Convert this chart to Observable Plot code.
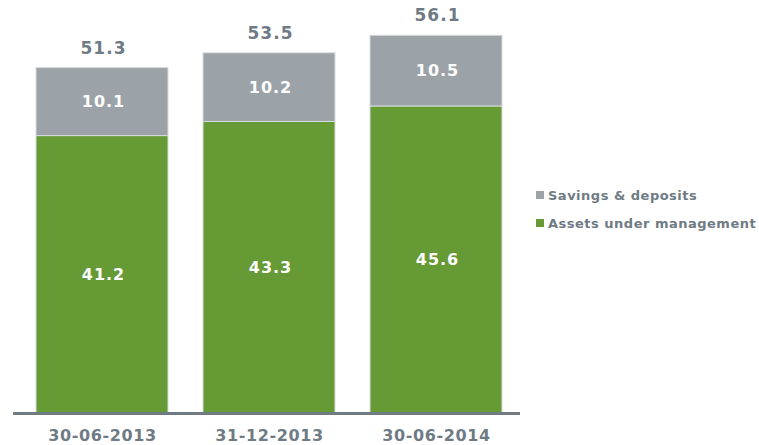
<!DOCTYPE html>
<html>
<head>
<meta charset="utf-8">
<script src="https://cdn.jsdelivr.net/npm/d3@7"></script>
<script src="https://cdn.jsdelivr.net/npm/@observablehq/plot@0.6"></script>
<style>
  html, body { margin: 0; padding: 0; background: #fff; }
  #wrap { position: relative; width: 759px; height: 445px; font-family: "DejaVu Sans", Verdana, sans-serif; }
  #wrap svg text { letter-spacing: 1px; }
  #wrap svg g[aria-label="x-axis tick label"] text { letter-spacing: 0.6px; }
  #legend { position: absolute; left: 536px; top: 187px; font-weight: bold; font-size: 13px; letter-spacing: 0.5px; color: #6f7b84; }
  #legend .row { display: flex; align-items: center; height: 16px; margin-bottom: 12px; }
  #legend .sw { width: 8px; height: 8px; margin-right: 4px; }
</style>
</head>
<body>
<div id="wrap"></div>
<script>
const dates = ["30-06-2013", "31-12-2013", "30-06-2014"];
const assets = [41.2, 43.3, 45.6];
const savings = [10.1, 10.2, 10.5];
const totals = [51.3, 53.5, 56.1];
const seriesNames = ["Assets under management", "Savings & deposits"];
const seriesColors = ["#659a34", "#9ca3a8"];

const rows = [];
dates.forEach((d, i) => {
  rows.push({date: d, series: seriesNames[0], value: assets[i]});
  rows.push({date: d, series: seriesNames[1], value: savings[i]});
});
const totalRows = dates.map((d, i) => ({date: d, total: totals[i]}));

const font = "DejaVu Sans, Verdana, sans-serif";

const chart = Plot.plot({
  width: 759,
  height: 445,
  marginLeft: 13,
  marginRight: 239,
  marginTop: 9,
  marginBottom: 32,
  style: {fontFamily: font, background: "#fff"},
  x: {domain: dates, paddingInner: 0.212, paddingOuter: 0.12, align: 0.55, label: null},
  y: {domain: [0, 60], axis: null},
  color: {domain: seriesNames, range: seriesColors},
  marks: [
    Plot.barY(rows, {x: "date", y: "value", z: "series", fill: "series", stroke: "#d9dcdc", strokeWidth: 1}),
    Plot.text(rows, Plot.stackY({x: "date", y: "value", z: "series", text: d => d.value.toFixed(1), fill: "#ffffff", fontSize: 16, fontWeight: "bold", dx: 1})),
    Plot.text(totalRows, {x: "date", y: "total", text: d => d.total.toFixed(1), dy: -20, dx: 1, fill: "#6f7b84", fontSize: 17, fontWeight: "bold"}),
    Plot.ruleY([0], {stroke: "#6f7b80", strokeWidth: 3}),
    Plot.axisX({tickSize: 0, tickPadding: 16, fontSize: 16, fontWeight: "bold", fill: "#6f7b84", label: null})
  ]
});

const wrap = document.getElementById("wrap");
wrap.appendChild(chart);

const legend = document.createElement("div");
legend.id = "legend";
["Savings & deposits", "Assets under management"].forEach(name => {
  const row = document.createElement("div");
  row.className = "row";
  const sw = document.createElement("span");
  sw.className = "sw";
  sw.style.background = seriesColors[seriesNames.indexOf(name)];
  const lab = document.createElement("span");
  lab.textContent = name;
  row.appendChild(sw);
  row.appendChild(lab);
  legend.appendChild(row);
});
wrap.appendChild(legend);
</script>
</body>
</html>
